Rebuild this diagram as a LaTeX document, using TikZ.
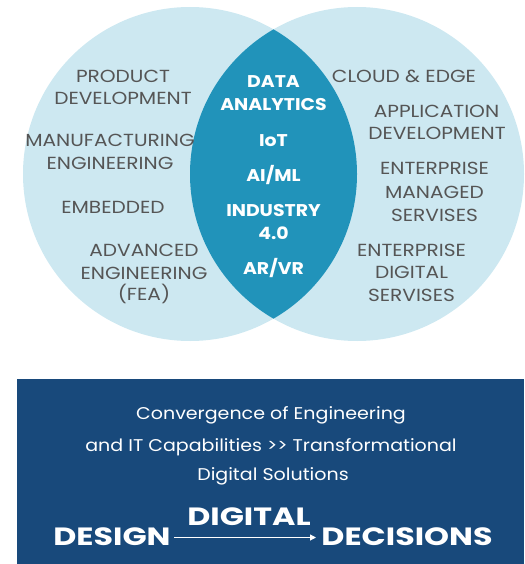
\documentclass[tikz,border=0pt]{standalone}
\usepackage{fontspec}
\setmainfont{Poppins}
\newfontfamily\grayfont[FakeStretch=1.15]{Poppins}
\newfontfamily\lensfont[FakeStretch=1.11]{Poppins}
\newfontfamily\titlefont[FakeStretch=1.12]{Poppins}
\newfontfamily\bigfont[FakeStretch=1.27]{Poppins}
\usetikzlibrary{arrows.meta}
\definecolor{light}{HTML}{CDE8F1}
\definecolor{lens}{HTML}{2193BA}
\definecolor{boxblue}{HTML}{18497B}
\definecolor{txtgray}{HTML}{555555}
\tikzset{
  glabel/.style={anchor=base, text=txtgray, font=\grayfont\fontsize{17.5}{20}\selectfont, inner sep=0pt},
  wlabel/.style={anchor=base, text=white, font=\lensfont\fontsize{17}{20}\selectfont\bfseries, inner sep=0pt},
  blabel/.style={anchor=base, text=white, font=\titlefont\fontsize{17}{20}\selectfont, inner sep=0pt},
  biglabel/.style={anchor=base, text=white, font=\bigfont\fontsize{25}{30}\selectfont\bfseries, inner sep=0pt},
}
\begin{document}
\begin{tikzpicture}[x=1pt,y=-1pt]
\useasboundingbox (0,0) rectangle (524,564);
% circles
\fill[light] (190,174) circle (167);
\fill[light] (357,174) circle (167);
\begin{scope}
  \clip (190,174) circle (167);
  \fill[lens] (357,174) circle (167);
\end{scope}
% left labels
\node[glabel] (l1a) at (123,83) {PRODUCT};
\node[glabel] (l1b) at (123,104.5) {DEVELOPMENT};
\node[glabel] (l2a) at (110,147) {MANUFACTURING};
\node[glabel] (l2b) at (110,170) {ENGINEERING};
\node[glabel] (l3) at (113,213) {EMBEDDED};
\node[glabel] (l4a) at (144,256.5) {ADVANCED};
\node[glabel] (l4b) at (144,279.5) {ENGINEERING};
\node[glabel] (l4c) at (144,300.5) {(FEA)};
% center labels
\node[wlabel] (c1a) at (273.5,88) {DATA};
\node[wlabel] (c1b) at (273.5,110.5) {ANALYTICS};
\node[wlabel] (c2) at (273.5,146.5) {IoT};
\node[wlabel] (c3) at (273.5,181) {AI/ML};
\node[wlabel] (c4a) at (273.5,216.5) {INDUSTRY};
\node[wlabel] (c4b) at (273.5,239.5) {4.0};
\node[wlabel] (c5) at (273.5,274) {AR/VR};
% right labels
\node[glabel] (r1) at (404,83) {CLOUD \& EDGE};
\node[glabel] (r2a) at (436.5,117.5) {APPLICATION};
\node[glabel] (r2b) at (437,140) {DEVELOPMENT};
\node[glabel] (r3a) at (434.5,175) {ENTERPRISE};
\node[glabel] (r3b) at (434.5,198.5) {MANAGED};
\node[glabel] (r3c) at (434.5,221) {SERVISES};
\node[glabel] (r4a) at (411.5,256) {ENTERPRISE};
\node[glabel] (r4b) at (411.5,278.5) {DIGITAL};
\node[glabel] (r4c) at (411.5,301) {SERVISES};
% bottom box
\fill[boxblue] (17,379) rectangle (524,564);
\node[blabel] (t1) at (271,419.5) {Convergence of Engineering};
\node[blabel] (t2) at (271,451) {and IT Capabilities >{}> Transformational};
\node[blabel] (t3) at (273,480) {Digital Solutions};
\node[biglabel] (design) at (112,545) {DESIGN};
\node[biglabel] (decisions) at (407,545) {DECISIONS};
\node[biglabel] (digital) at (249,525) {DIGITAL};
\coordinate (aS) at (174,537.5);
\coordinate (aE) at (316,537.5);
\draw[white, line width=1pt, -{Triangle[length=6pt,width=6pt]}] (aS) -- (aE);
\end{tikzpicture}
\end{document}
